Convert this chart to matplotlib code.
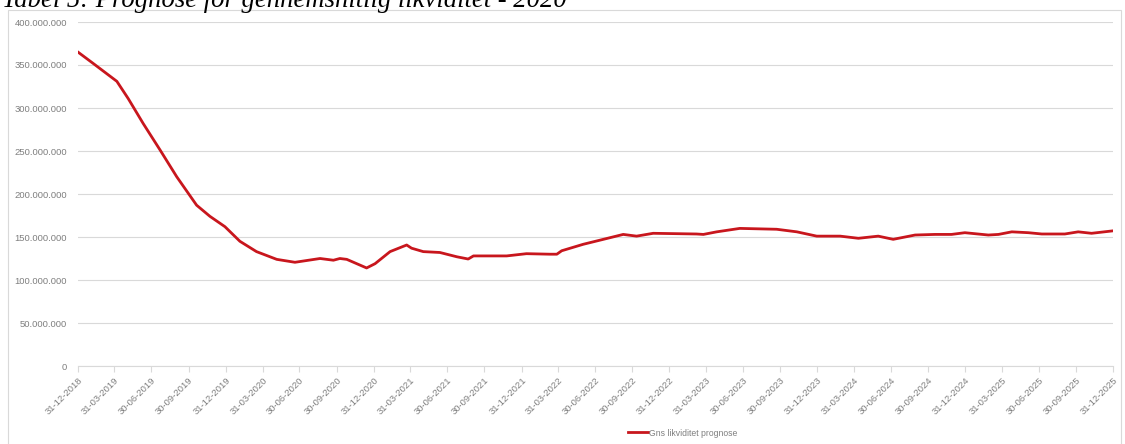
import matplotlib
matplotlib.use("Agg")
import matplotlib.pyplot as plt
from matplotlib.patches import Rectangle
from matplotlib.ticker import FuncFormatter
import pandas as pd

# ---- data ----
dates = ["2018-12-31", "2019-02-06", "2019-04-06", "2019-05-04", "2019-06-10",
         "2019-07-22", "2019-09-01", "2019-10-20", "2019-11-22", "2019-12-29",
         "2020-02-04", "2020-03-16", "2020-05-05", "2020-06-19", "2020-08-20",
         "2020-09-22", "2020-10-08", "2020-10-25", "2020-12-13", "2021-01-03",
         "2021-02-09", "2021-03-22", "2021-04-03", "2021-05-02", "2021-06-12",
         "2021-07-24", "2021-08-21", "2021-09-03", "2021-11-24", "2022-01-12",
         "2022-03-11", "2022-03-28", "2022-04-09", "2022-06-01", "2022-07-21",
         "2022-09-08", "2022-10-11", "2022-11-21", "2023-03-08", "2023-03-25",
         "2023-04-27", "2023-06-23", "2023-09-22", "2023-11-11", "2023-12-30",
         "2024-02-26", "2024-04-11", "2024-05-30", "2024-07-06", "2024-08-29",
         "2024-10-17", "2024-11-27", "2024-12-30", "2025-02-26", "2025-03-23",
         "2025-04-25", "2025-06-05", "2025-07-08", "2025-09-03", "2025-10-06",
         "2025-11-08", "2025-12-28"]
values_mio = [365, 352, 331, 311, 282,
              251, 220, 187, 174, 162,
              145, 133, 124, 120.6, 125,
              123, 125, 124, 114, 119,
              133, 140.7, 137, 133, 132,
              127, 124.4, 128, 128, 130.6,
              130, 130, 134, 141.5, 147.3,
              153, 151, 154.3, 153.5, 153,
              156, 160, 159, 156, 151,
              151, 148.5, 151, 147.3, 152.3,
              153, 153, 155, 152.3, 153,
              156, 155, 153.5, 153.5, 156,
              154.3, 157]
series_label = "Gns likviditet prognose"
title_text = "Tabel 5: Prognose for gennemsnitlig likviditet - 2020"
tick_dates = pd.date_range("2018-12-31", "2025-12-31", freq="QE")
y_ticks = list(range(0, 400_000_001, 50_000_000))

# ---- figure ----
W, H = 1125, 444
fig = plt.figure(figsize=(W / 100, H / 100), dpi=100)
fig.patch.set_facecolor("white")

# chart-area border
fig.patches.append(Rectangle((8 / W, -0.01), (1121 - 8) / W, 1 - 10 / H + 0.01,
                             transform=fig.transFigure, fill=False,
                             edgecolor="#D9D9D9", linewidth=0.8))

ax = fig.add_axes([78 / W, 1 - 366 / H, (1113 - 78) / W, (366 - 22) / H])

x = pd.to_datetime(dates)
y = [v * 1_000_000 for v in values_mio]
ax.plot(x, y, color="#C8161D", linewidth=2.0, label=series_label,
        solid_joinstyle="round")

ax.set_xlim(tick_dates[0], tick_dates[-1])
ax.set_ylim(0, 400_000_000)
ax.set_yticks(y_ticks)
ax.yaxis.set_major_formatter(FuncFormatter(lambda v, p: f"{int(v):,}".replace(",", ".")))
ax.set_xticks(tick_dates)
ax.set_xticklabels([d.strftime("%d-%m-%Y") for d in tick_dates],
                   rotation=45, ha="right", rotation_mode="anchor")

ax.grid(axis="y", color="#D9D9D9", linewidth=0.8)
ax.set_axisbelow(True)
for s in ["top", "right", "left"]:
    ax.spines[s].set_visible(False)
ax.spines["bottom"].set_color("#D9D9D9")
ax.spines["bottom"].set_linewidth(0.8)
ax.tick_params(axis="y", length=0, pad=8, labelsize=6.8, labelcolor="#7F7F7F")
ax.tick_params(axis="x", length=4, width=0.8, color="#D9D9D9", pad=3,
               labelsize=6.8, labelcolor="#7F7F7F")
for lab in ax.get_xticklabels() + ax.get_yticklabels():
    lab.set_fontfamily("Liberation Sans")

leg = fig.legend(loc="center left", bbox_to_anchor=(620 / W, 1 - 433 / H),
                 frameon=False, handlelength=2.4, handletextpad=0.1,
                 prop={"family": "Liberation Sans", "size": 6.2})
for t in leg.get_texts():
    t.set_color("#7F7F7F")

fig.text(0.002, 1 - 7 / H, title_text, fontfamily="Liberation Serif",
         fontstyle="italic", fontsize=19.2, va="baseline", ha="left", color="black")

fig.savefig("out.png", dpi=100)
